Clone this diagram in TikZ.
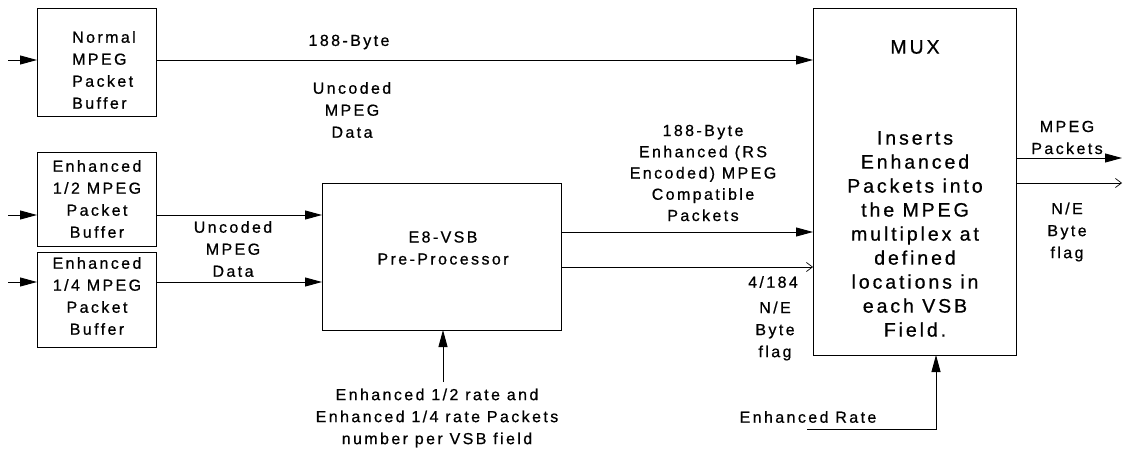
\documentclass[tikz,border=0pt]{standalone}
\usepackage{fontspec}
\setmainfont{Liberation Sans}[LetterSpace=15,FakeBold=0.7]
\usetikzlibrary{arrows.meta}
\begin{document}
\begin{tikzpicture}[x=1pt,y=-1pt,
 box/.style={draw, line width=0.9pt, inner sep=0pt, outer sep=0pt},
 txt/.style={font=\fontsize{16}{22}\selectfont, align=center, inner sep=0pt},
 big/.style={font=\fontsize{19.5}{24}\selectfont, align=center, inner sep=0pt},
 fa/.style={-{Triangle[length=17pt,width=9pt]}, line width=0.9pt},
 oa/.style={-{Straight Barb[length=6pt,width=9pt,line width=0.7pt]}, line width=0.7pt}]
\useasboundingbox (0,0) rectangle (1126,450);
% boxes
\node[box, minimum width=119pt, minimum height=108pt] (nb) at (96.5,62) {};
\node[box, minimum width=119pt, minimum height=94pt] (e2) at (96.5,199) {};
\node[box, minimum width=119pt, minimum height=95pt] (e4) at (96.5,299.5) {};
\node[box, minimum width=239pt, minimum height=147pt] (pp) at (441.5,256.5) {};
\node[box, minimum width=203pt, minimum height=347pt] (mux) at (914.5,181.5) {};
% box texts
\node[txt, align=left, anchor=west] (tnb) at (72,70) {Normal\\MPEG\\Packet\\Buffer};
\node[txt] (te2) at (97,199) {Enhanced\\1/2 MPEG\\Packet\\Buffer};
\node[txt] (te4) at (97,296) {Enhanced\\1/4 MPEG\\Packet\\Buffer};
\node[txt] (tpp) at (443,248) {E8-VSB\\Pre-Processor};
\node[big] (tmux) at (915,47) {MUX};
\node[big] (tins) at (915,234) {Inserts\\Enhanced\\Packets into\\the MPEG\\multiplex at\\defined\\locations in\\each VSB\\Field.};
% coordinates
\coordinate (i1) at (8,60);
\coordinate (i2) at (8,215);
\coordinate (i3) at (8,282);
\coordinate (p1) at (0,232);
\coordinate (p2) at (0,267);
\coordinate (o1) at (1122,158);
\coordinate (o2) at (1122,183);
\coordinate (b1) at (443,382);
\coordinate (r0) at (807,429);
\coordinate (r1) at (936,429);
% connectors
\draw[fa] (i1) -- (i1 -| nb.west);
\draw[fa] (i2) -- (i2 -| e2.west);
\draw[fa] (i3) -- (i3 -| e4.west);
\draw[fa] (nb.east |- i1) -- (i1 -| mux.west);
\draw[fa] (e2.east |- i2) -- (i2 -| pp.west);
\draw[fa] (e4.east |- i3) -- (i3 -| pp.west);
\draw[fa] (pp.east |- p1) -- (p1 -| mux.west);
\draw[oa] (pp.east |- p2) -- (p2 -| mux.west);
\draw[fa] (mux.east |- o1) -- (o1);
\draw[oa] (mux.east |- o2) -- (o2);
\draw[fa] (b1) -- (b1 |- pp.south);
\draw[fa] (r0) -- (r1) -- (r1 |- mux.south);
% labels
\node[txt] (l188) at (349,42) {188-Byte};
\node[txt] (lunc1) at (352,110) {Uncoded\\MPEG\\Data};
\node[txt] (lunc2) at (233,249) {Uncoded\\MPEG\\Data};
\node[txt] (lbot) at (437,418) {Enhanced 1/2 rate and\\Enhanced 1/4 rate Packets\\number per VSB field};
\node[txt, font=\fontsize{16}{21.25}\selectfont] (lenh) at (703,173) {188-Byte\\Enhanced (RS\\Encoded) MPEG\\Compatible\\Packets};
\node[txt] (l4184) at (773,282) {4/184};
\node[txt] (lne) at (775,331) {N/E\\Byte\\flag};
\node[txt] (lmp) at (1067,137.5) {MPEG\\Packets};
\node[txt] (lne2) at (1067,232) {N/E\\Byte\\flag};
\node[txt] (lrate) at (808,417) {Enhanced Rate};
\end{tikzpicture}
\end{document}
